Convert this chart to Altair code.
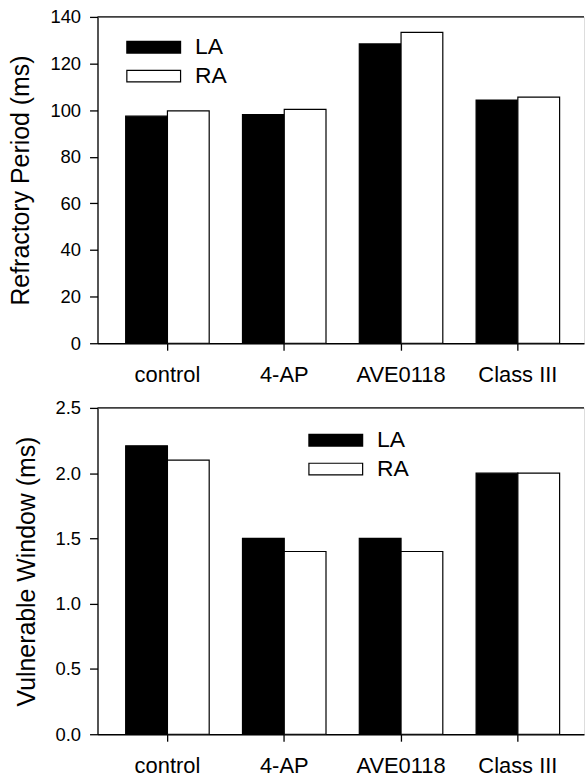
import altair as alt
import pandas as pd

categories = ["control", "4-AP", "AVE0118", "Class III"]
series = ["LA", "RA"]
refractory_LA = [97.4, 98.1, 128.4, 104.3]
refractory_RA = [99.7, 100.3, 133.4, 105.6]
vulnerable_LA = [2.21, 1.5, 1.5, 2.0]
vulnerable_RA = [2.1, 1.4, 1.4, 2.0]
series_colors = ["black", "white"]
refractory_ticks = [0, 20, 40, 60, 80, 100, 120, 140]
vulnerable_ticks = [0.0, 0.5, 1.0, 1.5, 2.0, 2.5]


def frame(la, ra):
    rows = []
    for c, a, b in zip(categories, la, ra):
        rows.append({"group": c, "series": "LA", "value": a})
        rows.append({"group": c, "series": "RA", "value": b})
    return pd.DataFrame(rows)


W = 489
H = 328
FONT = "Liberation Sans"
LEGEND_PATH = "M-2.7,-0.585H2.7V0.585H-2.7Z"


def panel(df, ytitle, ticks, fmt, legx, legy):
    xscale = alt.Scale(domain=categories, paddingInner=0.285,
                       paddingOuter=0.225, align=0.536)
    bars = alt.Chart(df).mark_bar(stroke="black", strokeWidth=1.2).encode(
        x=alt.X("group:N", sort=categories, scale=xscale,
                axis=alt.Axis(title=None, labelAngle=0, tickSize=7,
                              labelPadding=14, labelFontSize=22)),
        xOffset=alt.XOffset("series:N", sort=series,
                            scale=alt.Scale(domain=series, paddingInner=0, paddingOuter=0)),
        y=alt.Y("value:Q", scale=alt.Scale(domain=[ticks[0], ticks[-1]], nice=False),
                axis=alt.Axis(title=ytitle, values=ticks, format=fmt, tickSize=8,
                              labelPadding=9, labelFontSize=18.5, titleFontSize=25,
                              titleFontWeight="normal", titlePadding=16)),
        color=alt.Color("series:N",
                        scale=alt.Scale(domain=series, range=series_colors),
                        legend=alt.Legend(title=None, orient="none", legendX=legx,
                                          legendY=legy, symbolType=LEGEND_PATH,
                                          symbolSize=400, symbolStrokeColor="black",
                                          symbolStrokeWidth=1.2, symbolOpacity=1,
                                          labelFontSize=23, labelOffset=30,
                                          rowPadding=5, padding=0,
                                          labelColor="black")),
    )
    top_line = alt.Chart(pd.DataFrame({"k": [0]})).mark_rule(
        color="black", strokeWidth=1.3).encode(
        y=alt.value(0), x=alt.value(0), x2=alt.value(W))
    return alt.layer(bars, top_line).properties(width=W, height=H)


top = panel(frame(refractory_LA, refractory_RA), "Refractory Period (ms)",
            refractory_ticks, "d", 45, 19)
bottom = panel(frame(vulnerable_LA, vulnerable_RA), "Vulnerable Window (ms)",
               vulnerable_ticks, ".1f", 228, 21)

chart = alt.vconcat(top, bottom, spacing=12).resolve_scale(
    color="independent").resolve_legend(color="independent").properties(
    padding={"left": 8, "top": 5, "right": 0, "bottom": 0}
).configure_view(stroke=None).configure(
    font=FONT
).configure_axis(
    labelColor="black", titleColor="black", domainColor="black",
    tickColor="black", domainWidth=1.3, tickWidth=1.3, grid=False,
    labelFont=FONT, titleFont=FONT
).configure_legend(labelFont=FONT)

chart.save("out.html", embed_options={"renderer": "svg", "actions": False})
